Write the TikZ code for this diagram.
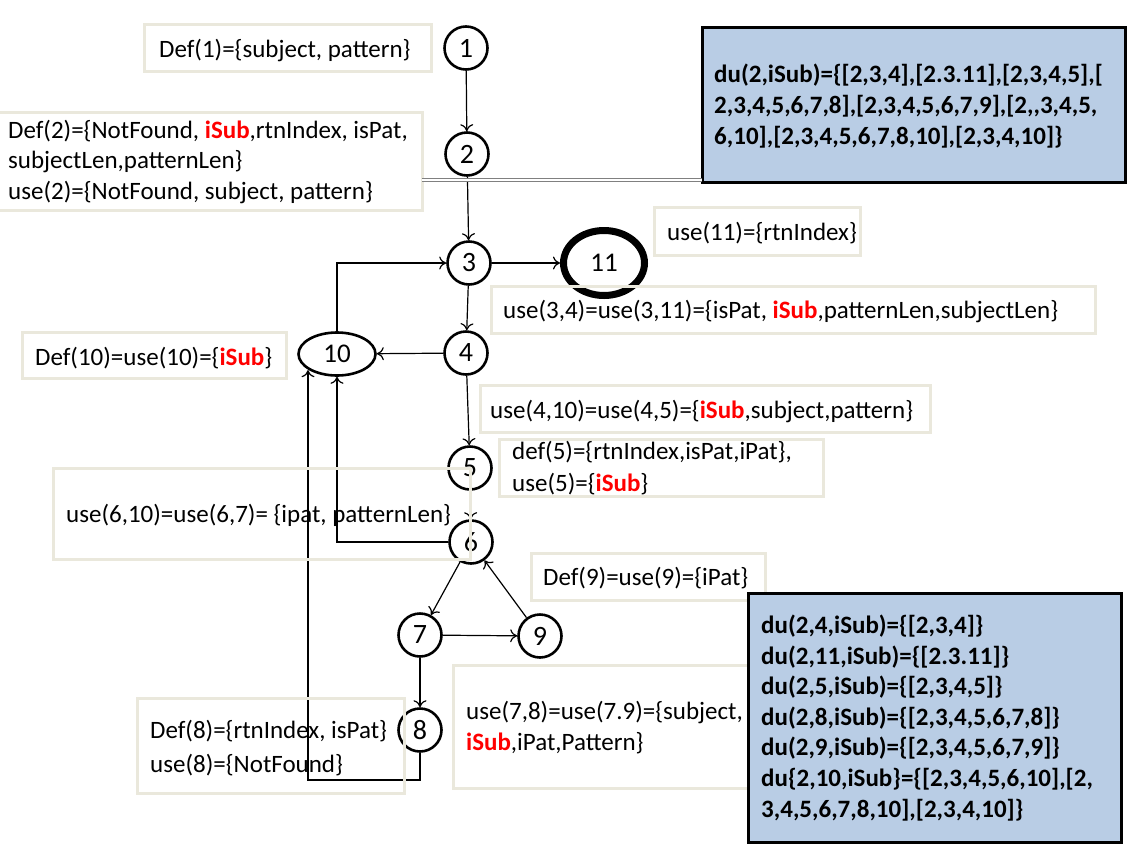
\documentclass[tikz,border=0pt]{standalone}
\usepackage{fontspec}
\setmainfont{Carlito}
\usetikzlibrary{arrows.meta,shapes.geometric}
\definecolor{boxborder}{RGB}{234,232,220}
\definecolor{dufill}{RGB}{185,205,229}
\definecolor{isubred}{RGB}{255,0,0}
\newcommand\iSubRed{\textcolor{isubred}{\textbf{iSub}}}
\begin{document}
\begin{tikzpicture}[x=1pt,y=-1pt,
  every node/.style={font=\fontsize{25}{30.5}\selectfont},
  vtx/.style={circle, draw, line width=2.6pt, minimum size=43pt, inner sep=0pt, font=\fontsize{28}{30}\selectfont},
  oval/.style={ellipse, draw, line width=2.6pt, inner sep=0pt, font=\fontsize{27}{30}\selectfont},
  edge/.style={line width=1.2pt, -{To[length=7pt,width=13pt]}},
  dline/.style={draw=gray, double=white, double distance=2pt, line width=0.8pt},
  tbox/.style={draw=boxborder, line width=3pt, inner sep=0pt, outer sep=0pt},
  dubox/.style={draw=black, fill=dufill, line width=3pt, inner sep=0pt, outer sep=0pt},
  txt/.style={anchor=base west, inner sep=0pt, align=left},
  dutxt/.style={anchor=base west, inner sep=0pt, align=left, font=\fontsize{25}{30.6}\selectfont\bfseries},
]
\useasboundingbox (0,0) rectangle (1140,852);

% graph nodes
\node[vtx] (n1) at (466,48) {1};
\node[vtx] (n2) at (467,154) {2};
\node[vtx] (n3) at (469,263) {3};
\node[oval, line width=7pt, minimum width=81pt, minimum height=65pt] (n11) at (604,263) {11};
\node[vtx] (n4) at (466,353) {4};
\node[oval, minimum width=77pt, minimum height=43pt] (n10) at (337,354) {10};
\node[vtx] (n5) at (470,468) {5};
\node[vtx] (n6) at (471,542) {6};
\node[vtx] (n7) at (420,635) {7};
\node[vtx] (n9) at (540,636) {9};
\node[vtx] (n8) at (420,730) {8};

% edges
\draw[edge] (n1) -- (n2);
\draw[edge] (n2) -- (n3);
\draw[edge] (n3) -- (n11);
\draw[edge] (n3) -- (n4);
\draw[edge] (n4) -- (n10);
\draw[edge] (n4) -- (n5);
\draw[edge] (n5) -- (n6);
\draw[edge] (n10) |- (n3);
\draw[edge] (n6) -| (n10);
\draw[edge] (n6) -- (n7);
\draw[edge] (n9) -- (n6);
\draw[edge] (n7) -- (n9);
\draw[edge] (n7) -- (n8);
\coordinate (c8) at (308,780);
\draw[edge] (n8) |- (c8) -- (c8 |- n10.-150);

% annotation boxes
\node[tbox, minimum width=287pt, minimum height=47pt] (bDef1) at (287.5,47.5) {};
\node[tbox, minimum width=427pt, minimum height=98pt] (bDef2) at (208.5,161) {};
\node[tbox, minimum width=206pt, minimum height=48pt] (bUse11) at (757,231) {};
\node[tbox, minimum width=604pt, minimum height=47pt] (bUse34) at (793,309.5) {};
\node[tbox, minimum width=264pt, minimum height=46pt] (bDef10) at (154,355) {};
\node[tbox, minimum width=450pt, minimum height=47pt] (bUse410) at (705,408.5) {};
\node[tbox, minimum width=324pt, minimum height=57pt] (bDef5) at (661,467.5) {};
\node[tbox, minimum width=417pt, minimum height=91pt] (bUse610) at (261.5,513.5) {};
\node[tbox, minimum width=234pt, minimum height=47pt] (bDef9) at (648,576.5) {};
\node[tbox, minimum width=317pt, minimum height=123pt] (bUse78) at (611.5,726.5) {};
\node[tbox, minimum width=267pt, minimum height=95pt] (bDef8) at (270.5,745.5) {};

% texts (anchor = baseline of the last line)
\node[txt] (tDef1) at (159,57) {Def(1)=\{subject, pattern\}};
\node[txt] (tDef2) at (8,199) {Def(2)=\{NotFound, \iSubRed,rtnIndex, isPat,\\subjectLen,patternLen\}\\use(2)=\{NotFound, subject, pattern\}};
\node[txt] (tUse11) at (667,240) {use(11)=\{rtnIndex\}};
\node[txt] (tUse34) at (503,318) {use(3,4)=use(3,11)=\{isPat, \iSubRed,patternLen,subjectLen\}};
\node[txt] (tDef10) at (35,365) {Def(10)=use(10)=\{\iSubRed\}};
\node[txt] (tUse410) at (490,418) {use(4,10)=use(4,5)=\{\iSubRed,subject,pattern\}};
\node[txt, font=\fontsize{25}{32}\selectfont] (tDef5) at (512,491) {def(5)=\{rtnIndex,isPat,iPat\},\\use(5)=\{\iSubRed\}};
\node[txt] (tUse610) at (66,522) {use(6,10)=use(6,7)= \{ipat, patternLen\}};
\node[txt] (tDef9) at (543,585) {Def(9)=use(9)=\{iPat\}};
\node[txt, font=\fontsize{25}{31}\selectfont] (tUse78) at (466,750) {use(7,8)=use(7.9)=\{subject,\\\iSubRed,iPat,Pattern\}};
\node[txt, font=\fontsize{25}{34}\selectfont] (tDef8) at (150,772) {Def(8)=\{rtnIndex, isPat\}\\use(8)=\{NotFound\}};

% du boxes
\node[dubox, minimum width=423pt, minimum height=155pt] (bDuTop) at (913.5,104.5) {};
\node[dubox, minimum width=373pt, minimum height=249pt] (bDuBot) at (934.5,717.5) {};
\draw[dline] ([yshift=-19pt]bDef2.east) coordinate (dl0) -- (dl0 -| bDuTop.west);

\node[dutxt] (tDuTop) at (714,144) {du(2,iSub)=\{[2,3,4],[2.3.11],[2,3,4,5],[\\2,3,4,5,6,7,8],[2,3,4,5,6,7,9],[2,\kern0pt,3,4,5,\\6,10],[2,3,4,5,6,7,8,10],[2,3,4,10]\}};
\node[dutxt] (tDuBot) at (761,817) {du(2,4,iSub)=\{[2,3,4]\}\\du(2,11,iSub)=\{[2.3.11]\}\\du(2,5,iSub)=\{[2,3,4,5]\}\\du(2,8,iSub)=\{[2,3,4,5,6,7,8]\}\\du(2,9,iSub)=\{[2,3,4,5,6,7,9]\}\\du\{2,10,iSub\}=\{[2,3,4,5,6,10],[2,\\3,4,5,6,7,8,10],[2,3,4,10]\}};
\end{tikzpicture}
\end{document}
